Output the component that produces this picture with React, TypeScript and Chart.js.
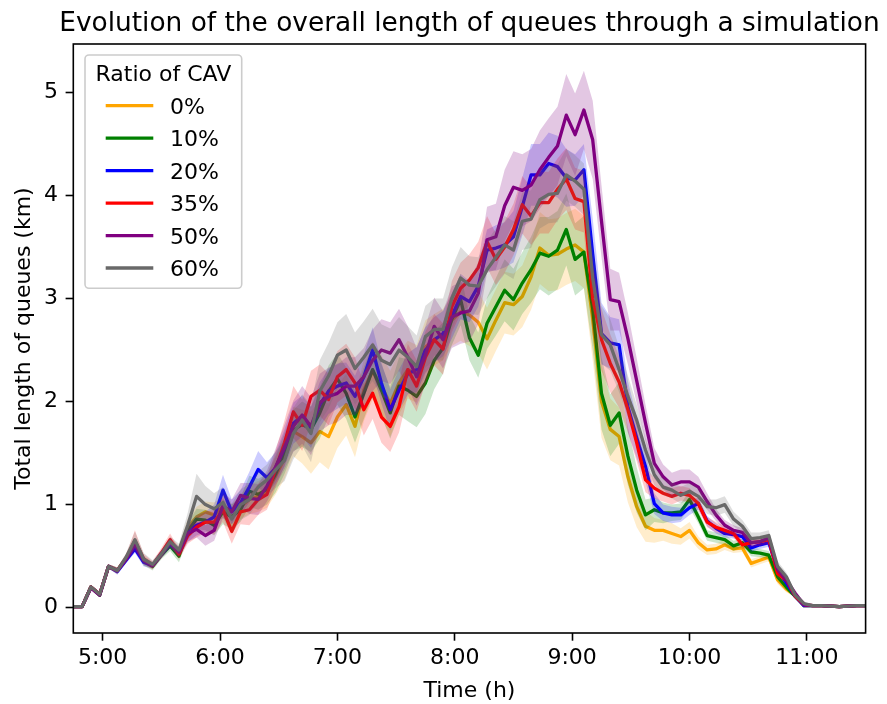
import React, { useEffect, useRef } from "react";
import { Chart, registerables } from "chart.js";

Chart.register(...registerables);

// ---- data -------------------------------------------------------------
// time axis: samples every 4.5 minutes from 4:45 to 11:30 (hours)
const T_START = 4.75;
const T_STEP = 0.075;

const X_TICKS = [5, 6, 7, 8, 9, 10, 11];
const X_TICK_LABELS = ["5:00", "6:00", "7:00", "8:00", "9:00", "10:00", "11:00"];
const Y_TICKS = [0, 1, 2, 3, 4, 5];

const TITLE = "Evolution of the overall length of queues through a simulation";
const X_TITLE = "Time (h)";
const Y_TITLE = "Total length of queues (km)";
const LEGEND_TITLE = "Ratio of CAV";

const SERIES_LABELS = ["0%", "10%", "20%", "35%", "50%", "60%"];
const SERIES_COLORS = ["#FFA500", "#008000", "#0000FF", "#FF0000", "#800080", "#696969"];
const BAND_COLORS = [
  "rgba(255,165,0,0.2)",
  "rgba(0,128,0,0.2)",
  "rgba(0,0,255,0.2)",
  "rgba(255,0,0,0.2)",
  "rgba(128,0,128,0.22)",
  "rgba(105,105,105,0.22)",
];

const CAV_0 = [
  0.01, 0.01, 0.20, 0.13, 0.40, 0.36, 0.48, 0.62, 0.46, 0.41, 0.52, 0.63, 0.55,
  0.78, 0.88, 0.93, 0.90, 0.98, 0.88, 0.98, 1.05, 1.08, 1.12, 1.28, 1.45, 1.71, 1.66, 1.60, 1.71, 1.66,
  1.85, 1.97, 1.76, 2.11, 2.30, 2.15, 1.98, 2.18, 2.31, 2.27, 2.53, 2.60, 2.65, 2.79, 2.87, 2.84, 2.77,
  2.61, 2.79, 2.96, 2.94, 3.02, 3.21, 3.49, 3.42, 3.43, 3.48, 3.52, 3.45,
  2.80, 2.00, 1.73, 1.66, 1.27, 0.98, 0.79, 0.75, 0.75, 0.72, 0.69, 0.75, 0.63, 0.56,
  0.57, 0.61, 0.57, 0.58, 0.43, 0.46, 0.49, 0.27, 0.18, 0.12, 0.02,
  0.02, 0.02, 0.015, 0.01, 0.015, 0.02, 0.02,
];
const CAV_10 = [
  0.01, 0.01, 0.20, 0.12, 0.40, 0.36, 0.47, 0.61, 0.45, 0.40, 0.51, 0.60, 0.50,
  0.74, 0.86, 0.85, 0.80, 0.93, 0.88, 0.95, 1.13, 1.10, 1.15, 1.30, 1.50, 1.72, 1.78, 1.73, 1.89, 2.10,
  2.22, 2.08, 1.85, 2.08, 2.31, 2.11, 1.89, 2.15, 2.11, 2.05, 2.18, 2.40, 2.52, 2.80, 2.99, 2.62, 2.45,
  2.76, 2.92, 3.08, 2.99, 3.15, 3.28, 3.44, 3.41, 3.47, 3.67, 3.38, 3.45,
  2.90, 2.08, 1.77, 1.89, 1.47, 1.14, 0.90, 0.95, 0.92, 0.92, 0.93, 1.05, 0.88, 0.70,
  0.68, 0.66, 0.60, 0.63, 0.54, 0.53, 0.51, 0.30, 0.20, 0.11, 0.02,
  0.02, 0.02, 0.015, 0.01, 0.015, 0.02, 0.02,
];
const CAV_20 = [
  0.01, 0.01, 0.20, 0.13, 0.40, 0.35, 0.46, 0.57, 0.44, 0.41, 0.52, 0.62, 0.54,
  0.72, 0.80, 0.83, 0.88, 1.14, 0.93, 1.02, 1.17, 1.34, 1.26, 1.36, 1.55, 1.79, 1.86, 1.75, 1.97, 2.10,
  2.15, 2.18, 2.05, 2.24, 2.50, 2.18, 1.92, 2.11, 2.27, 2.31, 2.50, 2.60, 2.66, 2.83, 3.02, 2.97, 3.12,
  3.47, 3.49, 3.52, 3.60, 3.89, 4.20, 4.20, 4.31, 4.28, 4.17, 4.15, 4.25,
  3.43, 2.66, 2.57, 2.55, 1.95, 1.65, 1.37, 1.01, 0.92, 0.90, 0.90, 0.97, 1.01, 0.84,
  0.77, 0.72, 0.71, 0.69, 0.58, 0.61, 0.63, 0.37, 0.24, 0.11, 0.02,
  0.02, 0.02, 0.015, 0.01, 0.015, 0.02, 0.02,
];
const CAV_35 = [
  0.01, 0.01, 0.20, 0.13, 0.40, 0.36, 0.48, 0.65, 0.47, 0.41, 0.53, 0.66, 0.52,
  0.70, 0.78, 0.83, 0.83, 0.95, 0.74, 0.93, 0.95, 1.05, 1.10, 1.35, 1.60, 1.90, 1.77, 2.05, 2.11, 2.02,
  2.24, 2.31, 2.18, 1.92, 2.08, 1.85, 1.76, 1.95, 2.31, 2.15, 2.43, 2.60, 2.51, 2.92, 3.10, 3.18, 3.30,
  3.55, 3.38, 3.50, 3.67, 3.91, 3.80, 3.93, 3.93, 4.06, 4.16, 3.97, 3.94,
  3.00, 2.60, 2.37, 2.19, 1.92, 1.60, 1.24, 1.16, 1.11, 1.08, 1.11, 1.09, 1.01, 0.83,
  0.78, 0.75, 0.72, 0.61, 0.63, 0.64, 0.66, 0.33, 0.27, 0.11, 0.03,
  0.02, 0.02, 0.015, 0.01, 0.015, 0.02, 0.02,
];
const CAV_50 = [
  0.01, 0.01, 0.19, 0.12, 0.40, 0.36, 0.47, 0.62, 0.46, 0.41, 0.52, 0.63, 0.54,
  0.72, 0.76, 0.70, 0.75, 0.99, 0.93, 1.09, 1.06, 1.05, 1.18, 1.37, 1.56, 1.76, 1.87, 1.76, 1.99, 2.05,
  2.08, 2.15, 2.15, 2.24, 2.40, 2.50, 2.47, 2.60, 2.43, 2.24, 2.45, 2.73, 2.60, 2.82, 2.86, 2.88, 3.05,
  3.57, 3.60, 3.90, 4.08, 4.05, 4.10, 4.25, 4.37, 4.48, 4.78, 4.59, 4.83,
  4.54, 3.75, 2.99, 2.97, 2.61, 2.20, 1.79, 1.40, 1.27, 1.19, 1.22, 1.22, 1.17, 1.03,
  0.90, 0.80, 0.75, 0.73, 0.63, 0.64, 0.68, 0.37, 0.27, 0.14, 0.03,
  0.02, 0.02, 0.015, 0.01, 0.015, 0.02, 0.02,
];
const CAV_60 = [
  0.01, 0.01, 0.20, 0.13, 0.40, 0.36, 0.49, 0.66, 0.47, 0.42, 0.52, 0.64, 0.56,
  0.80, 1.08, 1.00, 0.96, 1.02, 0.86, 1.00, 1.05, 1.17, 1.24, 1.34, 1.43, 1.69, 1.82, 1.69, 2.10, 2.25,
  2.45, 2.50, 2.32, 2.43, 2.55, 2.40, 2.36, 2.50, 2.43, 2.34, 2.63, 2.70, 2.70, 3.00, 3.20, 3.13, 3.12,
  3.28, 3.40, 3.52, 3.47, 3.75, 3.77, 3.96, 4.01, 4.02, 4.20, 4.14, 4.06,
  3.20, 2.65, 2.55, 2.31, 2.05, 1.82, 1.53, 1.29, 1.17, 1.14, 1.09, 1.13, 1.08, 0.98,
  0.97, 1.00, 0.86, 0.79, 0.67, 0.68, 0.70, 0.40, 0.30, 0.12, 0.04,
  0.02, 0.02, 0.015, 0.01, 0.015, 0.02, 0.02,
];

// half-width of the shaded confidence band around each series
const SPREAD_0 = [
  0.01, 0.01, 0.02, 0.02, 0.02, 0.03, 0.03, 0.05, 0.04, 0.03, 0.04, 0.05, 0.05,
  0.08, 0.10, 0.10, 0.12, 0.10, 0.12, 0.12, 0.14, 0.15, 0.15, 0.18, 0.20, 0.24, 0.26, 0.30, 0.30, 0.32,
  0.30, 0.30, 0.30, 0.30, 0.28, 0.30, 0.32, 0.30, 0.28, 0.28, 0.26, 0.25, 0.25, 0.25, 0.28, 0.30, 0.30,
  0.30, 0.30, 0.30, 0.30, 0.30, 0.32, 0.35, 0.35, 0.35, 0.35, 0.35, 0.35,
  0.40, 0.35, 0.30, 0.28, 0.25, 0.20, 0.15, 0.12, 0.10, 0.10, 0.08, 0.08, 0.06, 0.05,
  0.05, 0.05, 0.04, 0.04, 0.04, 0.04, 0.04, 0.04, 0.03, 0.02, 0.01,
  0.01, 0.01, 0.01, 0.01, 0.01, 0.01, 0.01,
];
const SPREAD_10 = [
  0.01, 0.01, 0.02, 0.02, 0.02, 0.03, 0.03, 0.04, 0.04, 0.04, 0.04, 0.05, 0.06,
  0.08, 0.10, 0.10, 0.10, 0.12, 0.12, 0.12, 0.15, 0.15, 0.15, 0.18, 0.20, 0.20, 0.22, 0.22, 0.25, 0.25,
  0.25, 0.25, 0.25, 0.25, 0.25, 0.25, 0.25, 0.28, 0.30, 0.30, 0.30, 0.28, 0.25, 0.25, 0.25, 0.22, 0.22,
  0.25, 0.28, 0.30, 0.30, 0.30, 0.32, 0.35, 0.38, 0.38, 0.35, 0.35, 0.35,
  0.40, 0.35, 0.30, 0.30, 0.28, 0.22, 0.15, 0.12, 0.10, 0.08, 0.08, 0.08, 0.06, 0.05,
  0.05, 0.05, 0.05, 0.04, 0.04, 0.04, 0.04, 0.04, 0.03, 0.02, 0.01,
  0.01, 0.01, 0.01, 0.01, 0.01, 0.01, 0.01,
];
const SPREAD_20 = [
  0.01, 0.01, 0.02, 0.02, 0.02, 0.03, 0.03, 0.04, 0.04, 0.03, 0.04, 0.04, 0.05,
  0.08, 0.10, 0.10, 0.12, 0.15, 0.12, 0.12, 0.15, 0.18, 0.15, 0.15, 0.18, 0.20, 0.20, 0.20, 0.22, 0.22,
  0.22, 0.20, 0.20, 0.22, 0.22, 0.20, 0.20, 0.20, 0.20, 0.22, 0.22, 0.22, 0.22, 0.22, 0.22, 0.20, 0.20,
  0.20, 0.22, 0.22, 0.25, 0.28, 0.30, 0.30, 0.30, 0.30, 0.28, 0.25, 0.25,
  0.35, 0.30, 0.25, 0.25, 0.25, 0.20, 0.15, 0.10, 0.08, 0.08, 0.07, 0.07, 0.06, 0.05,
  0.05, 0.04, 0.04, 0.04, 0.04, 0.04, 0.04, 0.04, 0.03, 0.02, 0.01,
  0.01, 0.01, 0.01, 0.01, 0.01, 0.01, 0.01,
];
const SPREAD_35 = [
  0.01, 0.01, 0.02, 0.02, 0.02, 0.03, 0.04, 0.10, 0.05, 0.04, 0.05, 0.06, 0.05,
  0.08, 0.10, 0.10, 0.12, 0.12, 0.12, 0.12, 0.15, 0.15, 0.15, 0.18, 0.22, 0.25, 0.25, 0.25, 0.25, 0.25,
  0.25, 0.25, 0.25, 0.25, 0.25, 0.25, 0.25, 0.25, 0.25, 0.25, 0.25, 0.25, 0.25, 0.25, 0.25, 0.25, 0.25,
  0.25, 0.25, 0.25, 0.25, 0.28, 0.28, 0.30, 0.30, 0.30, 0.30, 0.30, 0.30,
  0.35, 0.30, 0.28, 0.25, 0.22, 0.18, 0.12, 0.10, 0.08, 0.08, 0.07, 0.07, 0.06, 0.05,
  0.05, 0.04, 0.04, 0.04, 0.04, 0.04, 0.04, 0.04, 0.03, 0.02, 0.01,
  0.01, 0.01, 0.01, 0.01, 0.01, 0.01, 0.01,
];
const SPREAD_50 = [
  0.01, 0.01, 0.02, 0.02, 0.02, 0.03, 0.03, 0.05, 0.04, 0.03, 0.04, 0.05, 0.05,
  0.08, 0.08, 0.10, 0.10, 0.12, 0.12, 0.12, 0.15, 0.15, 0.15, 0.18, 0.22, 0.25, 0.28, 0.28, 0.28, 0.28,
  0.28, 0.28, 0.28, 0.28, 0.30, 0.30, 0.30, 0.30, 0.30, 0.28, 0.28, 0.28, 0.28, 0.30, 0.30, 0.30, 0.30,
  0.32, 0.32, 0.35, 0.35, 0.35, 0.35, 0.38, 0.38, 0.38, 0.40, 0.40, 0.38,
  0.38, 0.35, 0.30, 0.28, 0.25, 0.22, 0.18, 0.15, 0.12, 0.12, 0.12, 0.12, 0.10, 0.08,
  0.06, 0.05, 0.05, 0.04, 0.04, 0.04, 0.04, 0.04, 0.03, 0.02, 0.01,
  0.01, 0.01, 0.01, 0.01, 0.01, 0.01, 0.01,
];
const SPREAD_60 = [
  0.01, 0.01, 0.02, 0.02, 0.02, 0.03, 0.04, 0.08, 0.06, 0.04, 0.04, 0.05, 0.06,
  0.12, 0.22, 0.18, 0.15, 0.15, 0.15, 0.15, 0.15, 0.15, 0.15, 0.18, 0.20, 0.25, 0.25, 0.28, 0.30, 0.32,
  0.32, 0.35, 0.35, 0.35, 0.35, 0.35, 0.35, 0.32, 0.30, 0.30, 0.30, 0.30, 0.30, 0.30, 0.30, 0.28, 0.28,
  0.28, 0.28, 0.28, 0.28, 0.28, 0.28, 0.28, 0.28, 0.28, 0.25, 0.25, 0.25,
  0.30, 0.28, 0.25, 0.22, 0.20, 0.15, 0.12, 0.10, 0.08, 0.08, 0.08, 0.08, 0.08, 0.07,
  0.08, 0.08, 0.07, 0.06, 0.06, 0.05, 0.05, 0.05, 0.04, 0.03, 0.01,
  0.01, 0.01, 0.01, 0.01, 0.01, 0.01, 0.01,
];

const SERIES_VALUES = [CAV_0, CAV_10, CAV_20, CAV_35, CAV_50, CAV_60];
const SERIES_SPREADS = [SPREAD_0, SPREAD_10, SPREAD_20, SPREAD_35, SPREAD_50, SPREAD_60];

// ---- chart ------------------------------------------------------------
const W = 887;
const H = 704;
const FONT = "DejaVu Sans";
const FS = 22;
const TITLE_FS = 26.4;

const decorPlugin = {
  id: "decor",
  afterDraw(chart: any) {
    const { ctx, chartArea: a } = chart;
    ctx.save();
    // frame (all four spines)
    ctx.strokeStyle = "#000";
    ctx.lineWidth = 1.6;
    ctx.strokeRect(a.left, a.top, a.right - a.left, a.bottom - a.top);

    ctx.fillStyle = "#000";
    // title
    ctx.font = `${TITLE_FS}px "${FONT}"`;
    ctx.textAlign = "center";
    ctx.textBaseline = "alphabetic";
    ctx.fillText(TITLE, (a.left + a.right) / 2, a.top - 13);

    // axis titles
    ctx.font = `${FS}px "${FONT}"`;
    ctx.fillText(X_TITLE, (a.left + a.right) / 2, a.bottom + 64);
    ctx.save();
    ctx.translate(a.left - 43, (a.top + a.bottom) / 2);
    ctx.rotate(-Math.PI / 2);
    ctx.fillText(Y_TITLE, 0, 0);
    ctx.restore();

    // legend
    const lx = a.left + 11.7;
    const ly = a.top + 11;
    const lw = 156.7;
    const lh = 233.3;
    ctx.beginPath();
    if (ctx.roundRect) ctx.roundRect(lx, ly, lw, lh, 4);
    else ctx.rect(lx, ly, lw, lh);
    ctx.fillStyle = "rgba(255,255,255,0.8)";
    ctx.fill();
    ctx.strokeStyle = "#cccccc";
    ctx.lineWidth = 1.6;
    ctx.stroke();

    ctx.fillStyle = "#000";
    ctx.textAlign = "center";
    ctx.fillText(LEGEND_TITLE, lx + lw / 2, ly + 26.3);
    ctx.textAlign = "left";
    SERIES_LABELS.forEach((lab, i) => {
      const cy = ly + 50.7 + i * 32.46;
      ctx.strokeStyle = SERIES_COLORS[i];
      ctx.lineWidth = 3.3;
      ctx.beginPath();
      ctx.moveTo(lx + 20.7, cy);
      ctx.lineTo(lx + 68.3, cy);
      ctx.stroke();
      ctx.fillStyle = "#000";
      ctx.fillText(lab, lx + 85, cy + 8);
    });
    ctx.restore();
  },
};

function buildDatasets() {
  const ds: any[] = [];
  SERIES_VALUES.forEach((vals, i) => {
    const sp = SERIES_SPREADS[i];
    const base = (SERIES_VALUES.length - 1 - i) * 3;
    ds.push({
      label: SERIES_LABELS[i] + " upper",
      data: vals.map((v, k) => ({ x: T_START + k * T_STEP, y: v + sp[k] })),
      borderColor: "rgba(0,0,0,0)",
      borderWidth: 0,
      pointRadius: 0,
      backgroundColor: BAND_COLORS[i],
      fill: "+1",
      order: base + 1,
    });
    ds.push({
      label: SERIES_LABELS[i] + " lower",
      data: vals.map((v, k) => ({ x: T_START + k * T_STEP, y: v - sp[k] })),
      borderColor: "rgba(0,0,0,0)",
      borderWidth: 0,
      pointRadius: 0,
      fill: false,
      order: base + 2,
    });
    ds.push({
      label: SERIES_LABELS[i],
      data: vals.map((v, k) => ({ x: T_START + k * T_STEP, y: v })),
      borderColor: SERIES_COLORS[i],
      borderWidth: 3.3,
      pointRadius: 0,
      fill: false,
      order: base,
      borderJoinStyle: "round",
    });
  });
  return ds;
}

export default function App() {
  const ref = useRef<HTMLCanvasElement | null>(null);

  useEffect(() => {
    if (!ref.current) return;
    const chart = new Chart(ref.current, {
      type: "line",
      data: { datasets: buildDatasets() },
      options: {
        responsive: false,
        animation: false,
        devicePixelRatio: 1,
        events: [],
        layout: { padding: { top: 44, right: W - 865.6, bottom: 0, left: 0 } },
        plugins: {
          legend: { display: false },
          title: { display: false },
          tooltip: { enabled: false },
          filler: { propagate: false, drawTime: "beforeDatasetDraw" },
        },
        scales: {
          x: {
            type: "linear",
            min: 4.75,
            max: 11.5,
            afterBuildTicks: (s: any) => {
              s.ticks = X_TICKS.map((v) => ({ value: v }));
            },
            afterFit: (s: any) => {
              s.height = H - 633;
            },
            ticks: {
              callback: (v: any) => {
                const idx = X_TICKS.indexOf(Number(v));
                return idx >= 0 ? X_TICK_LABELS[idx] : "";
              },
              font: { family: FONT, size: FS },
              color: "#000",
              padding: 4,
              maxRotation: 0,
              autoSkip: false,
            },
            grid: {
              display: true,
              drawOnChartArea: false,
              drawTicks: true,
              tickLength: 7.7,
              tickColor: "#000",
              tickWidth: 1.6,
            },
            border: { display: false },
          },
          y: {
            type: "linear",
            min: -0.246,
            max: 5.47,
            afterBuildTicks: (s: any) => {
              s.ticks = Y_TICKS.map((v) => ({ value: v }));
            },
            afterFit: (s: any) => {
              s.width = 73.3;
            },
            ticks: {
              callback: (v: any) => String(v),
              font: { family: FONT, size: FS },
              color: "#000",
              padding: 7.7,
              autoSkip: false,
            },
            grid: {
              display: true,
              drawOnChartArea: false,
              drawTicks: true,
              tickLength: 7.7,
              tickColor: "#000",
              tickWidth: 1.6,
            },
            border: { display: false },
          },
        },
      },
      plugins: [decorPlugin],
    } as any);
    return () => chart.destroy();
  }, []);

  return (
    <div
      style={{
        position: "fixed",
        left: 0,
        top: 0,
        width: W,
        height: H,
        background: "#fff",
      }}
    >
      <canvas ref={ref} width={W} height={H} style={{ display: "block" }} />
    </div>
  );
}
